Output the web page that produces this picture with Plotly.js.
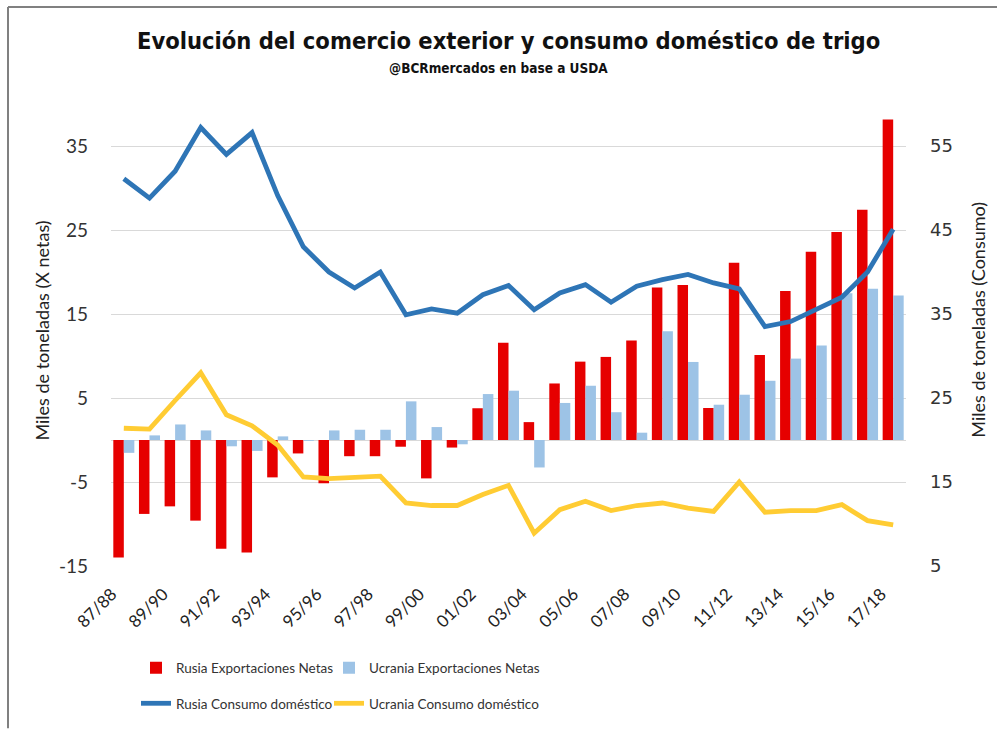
<!DOCTYPE html>
<html>
<head>
<meta charset="utf-8">
<script src="https://cdn.plot.ly/plotly-3.0.1.min.js"></script>
<style>html,body{margin:0;padding:0;background:#fff;}#chart{width:997px;height:731px;}</style>
</head>
<body>
<div id="chart"></div>
<script>
const seasons = ['87/88','88/89','89/90','90/91','91/92','92/93','93/94','94/95','95/96','96/97','97/98','98/99','99/00','00/01','01/02','02/03','03/04','04/05','05/06','06/07','07/08','08/09','09/10','10/11','11/12','12/13','13/14','14/15','15/16','16/17','17/18'];
const tickLabels = ['87/88','89/90','91/92','93/94','95/96','97/98','99/00','01/02','03/04','05/06','07/08','09/10','11/12','13/14','15/16','17/18'];
const leftTicks = [-15,-5,5,15,25,35];
const leftTickText = ['-15','-5','5','15','25','35'];
const rightTicks = [5,15,25,35,45,55];
const rusiaExport = [-14.0,-8.8,-7.9,-9.6,-12.95,-13.4,-4.45,-1.6,-5.15,-1.93,-1.93,-0.8,-4.57,-0.9,3.78,11.58,2.13,6.73,9.33,9.89,11.85,18.15,18.46,3.81,21.1,10.12,17.75,22.4,24.77,27.4,38.15];
const ucraniaExport = [-1.53,0.55,1.85,1.14,-0.75,-1.3,0.43,-0.1,1.14,1.22,1.22,4.6,1.54,-0.51,5.47,5.87,-3.27,4.41,6.46,3.31,0.87,12.95,9.29,4.2,5.39,7.05,9.69,11.26,17.48,18.0,17.2];
const rusiaConsumo = [51.1,48.8,52.0,57.2,54.0,56.6,49.1,43.0,40.0,38.1,40.0,34.9,35.6,35.1,37.3,38.4,35.5,37.5,38.5,36.4,38.3,39.1,39.7,38.7,38.0,33.5,34.1,35.5,37.0,40.0,45.1];
const ucraniaConsumo = [21.4,21.3,24.7,28.0,23.0,21.7,19.4,15.6,15.4,15.6,15.7,12.5,12.2,12.2,13.5,14.6,8.9,11.7,12.7,11.6,12.2,12.5,11.9,11.5,15.0,11.4,11.6,11.6,12.3,10.4,9.9];

const titleFont = '"DejaVu Sans Condensed", "Open Sans", sans-serif';
const lato = 'Lato, "Open Sans", sans-serif';

const traces = [
  {type:'bar', name:'Rusia Exportaciones Netas', x:seasons, y:rusiaExport, marker:{color:'#e60000'}, legend:'legend'},
  {type:'bar', name:'Ucrania Exportaciones Netas', x:seasons, y:ucraniaExport, marker:{color:'#9dc3e6'}, legend:'legend2'},
  {type:'scatter', mode:'lines', name:'Rusia Consumo doméstico', x:seasons, y:rusiaConsumo, yaxis:'y2', line:{color:'#2e75b6', width:4.8}, legend:'legend3'},
  {type:'scatter', mode:'lines', name:'Ucrania Consumo doméstico', x:seasons, y:ucraniaConsumo, yaxis:'y2', line:{color:'#ffcc33', width:4.8}, legend:'legend4'}
];

function leg(px, py) {
  return {orientation:'h', x:(px-111)/795, xanchor:'left', y:(571-py)/467, yanchor:'middle',
          font:{family:lato, size:13.5, color:'#333'}, bgcolor:'rgba(0,0,0,0)', borderwidth:0};
}

const layout = {
  width:997, height:731,
  margin:{l:111, r:91, t:104, b:160, pad:0},
  paper_bgcolor:'#fff', plot_bgcolor:'#fff',
  barmode:'group', bargap:0.18, bargroupgap:0,
  showlegend:true,
  xaxis:{type:'category', tickmode:'array', tickvals:tickLabels, ticktext:tickLabels, tickangle:-45,
         tickfont:{family:lato, size:17, color:'#222'}, showgrid:false, showline:false, ticks:'',
         ticklabelstandoff:14, ticklabelshift:-12},
  yaxis:{range:[-15,40], tickmode:'array', tickvals:leftTicks, ticktext:leftTickText, gridcolor:'#d9d9d9', gridwidth:1,
         zeroline:true, zerolinecolor:'#d9d9d9', zerolinewidth:1, showline:false,
         tickfont:{family:lato, size:19, color:'#333'}, ticks:'', ticklabelstandoff:22},
  yaxis2:{range:[5,60], tickmode:'array', tickvals:rightTicks, overlaying:'y', side:'right', showgrid:false,
          zeroline:false, showline:false, tickfont:{family:'"DejaVu Sans", sans-serif', size:18, color:'#333'},
          ticks:'', ticklabelstandoff:23},
  legend:leg(136, 674),
  legend2:leg(329, 674),
  legend3:leg(136, 710),
  legend4:leg(329, 710),
  annotations:[
    {text:'<b>Evolución del comercio exterior y consumo doméstico de trigo</b>', xref:'paper', yref:'paper',
     x:(508-111)/795, y:(571-40)/467, xanchor:'center', yanchor:'middle', showarrow:false,
     font:{family:titleFont, size:23.5, color:'#111'}},
    {text:'<b>@BCRmercados en base a USDA</b>', xref:'paper', yref:'paper',
     x:(498-111)/795, y:(571-68)/467, xanchor:'center', yanchor:'middle', showarrow:false,
     font:{family:titleFont, size:13.5, color:'#111'}},
    {text:'Miles de toneladas (X netas)', xref:'paper', yref:'paper', x:(42-111)/795, y:(571-333)/467,
     xanchor:'center', yanchor:'middle', textangle:-90, showarrow:false, font:{family:lato, size:18, color:'#222'}},
    {text:'Miles de toneladas (Consumo)', xref:'paper', yref:'paper', x:(978-111)/795, y:(571-322)/467,
     xanchor:'center', yanchor:'middle', textangle:-90, showarrow:false, font:{family:lato, size:18, color:'#222'}}
  ],
  shapes:[
    {type:'line', xref:'paper', yref:'paper', x0:(8-111)/795, x1:(1000-111)/795, y0:(571-6)/467, y1:(571-6)/467, line:{color:'#808080', width:2}},
    {type:'line', xref:'paper', yref:'paper', x0:(8-111)/795, x1:(8-111)/795, y0:(571-6)/467, y1:(571-735)/467, line:{color:'#808080', width:2}}
  ]
};

Plotly.newPlot('chart', traces, layout, {displayModeBar:false, staticPlot:true});
</script>
</body>
</html>
